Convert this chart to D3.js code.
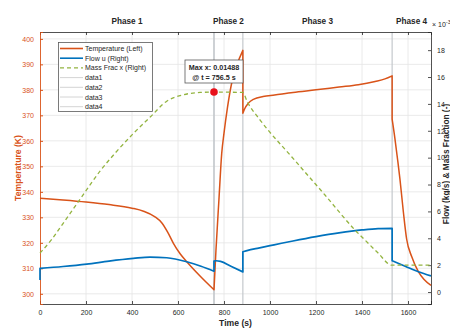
<!DOCTYPE html>
<html>
<head>
<meta charset="utf-8">
<script src="https://cdn.jsdelivr.net/npm/d3@7"></script>
<style>
  body { margin: 0; background: #fff; }
  svg { display: block; font-family: "Liberation Sans", Arial, sans-serif; }
</style>
</head>
<body>
<svg id="chart" width="450" height="329"></svg>
<script>
// ---- data -------------------------------------------------------------
const timeTicks = [0, 200, 400, 600, 800, 1000, 1200, 1400, 1600];
const tempTicks = [300, 310, 320, 330, 340, 350, 360, 370, 380, 390, 400];
const rightTicks = [0, 2, 4, 6, 8, 10, 12, 14, 16, 18];

const phaseNames = ["Phase 1", "Phase 2", "Phase 3", "Phase 4"];
const phaseBounds = [0, 756.5, 882, 1531, 1700];

// temperature [t (s), T (K)] per phase
const tempPhase1 = [[0,337.5],[100,336.8],[200,336.0],[300,335.0],[400,333.6],[450,332.4],[500,330.2],[530,327.8],[555,324.2],[580,319.8],[610,315.6],[640,312.4],[700,306.6],[756.5,301.6]];
const tempPhase2 = [[756.5,301.6],[765,317],[778,337],[790,355],[800,363],[815,373],[833,382.5],[855,389.5],[882,395.5]];
const tempPhase3 = [[882,370.8],[890,372.6],[906,374.8],[930,376.4],[970,377.4],[1020,378.0],[1100,379.0],[1200,380.0],[1300,381.1],[1384,382.0],[1457,383.3],[1500,384.3],[1531,385.5]];
const tempPhase4 = [[1531,368.5],[1543,361],[1555,352.5],[1565,345],[1580,332],[1594,321.5],[1616,314.6],[1645,308.7],[1670,305.6],[1700,303.3]];

// flow u [t (s), value x1e-3] per phase
const flowStart  = [[0,0.9]];
const flowPhase1 = [[0,1.76],[100,1.9],[203,2.08],[300,2.3],[406,2.5],[478,2.6],[551,2.55],[638,2.25],[700,1.92],[756.5,1.55]];
const flowPhase2 = [[756.5,2.3],[765,2.33],[785,2.28],[830,1.92],[882,1.5]];
const flowPhase3 = [[882,3.0],[900,3.08],[950,3.27],[1000,3.45],[1050,3.63],[1100,3.8],[1200,4.12],[1300,4.4],[1400,4.62],[1470,4.72],[1531,4.74]];
const flowPhase4 = [[1531,2.33],[1590,1.9],[1645,1.51],[1700,1.2]];

// mass fraction x [t (s), value x1e-3]
const massFrac = [[0,2.9],[50,3.9],[100,5.1],[174,6.9],[261,9.0],[330,10.4],[406,11.8],[478,13.0],[551,14.2],[623,14.68],[696,14.85],[756.5,14.88],[820,14.87],[882,14.85],[900,14.2],[957,12.8],[1094,10.07],[1239,7.22],[1370,4.61],[1413,3.87],[1470,2.9],[1529,2.0],[1600,2.0],[1700,2.0]];

// peak of the mass fraction
const maxX = 0.01488;
const maxT = 756.5;

const legendLabels = ["Temperature (Left)", "Flow u (Right)", "Mass Frac x (Right)", "data1", "data2", "data3", "data4"];

// ---- layout -----------------------------------------------------------
const ORANGE = "#D95319", BLUE = "#0072BD", GREEN = "#93B440", INK = "#262626";
const svg = d3.select("#chart");
const mLeft = 40, mRight = 431, mTop = 32, mBottom = 304;

const x  = d3.scaleLinear().domain([0, 1700]).range([mLeft, mRight]);
const yL = d3.scaleLinear().domain([296, 402.7]).range([mBottom, mTop]);
const yR = d3.scaleLinear().domain([-0.89, 19.35]).range([mBottom, mTop]);

// grid
const grid = svg.append("g").attr("stroke", "#e4e4e4").attr("stroke-width", 0.8);
timeTicks.slice(1).forEach(t => grid.append("line")
  .attr("x1", x(t)).attr("x2", x(t)).attr("y1", mTop).attr("y2", mBottom));
tempTicks.forEach(v => grid.append("line")
  .attr("x1", mLeft).attr("x2", mRight).attr("y1", yL(v)).attr("y2", yL(v)));

// phase dividers (data1..data4)
const dividers = [phaseBounds[1], phaseBounds[2], phaseBounds[3], maxT];
svg.append("g").selectAll("line").data(dividers).join("line")
  .attr("x1", d => x(d)).attr("x2", d => x(d))
  .attr("y1", mTop).attr("y2", mBottom)
  .attr("stroke", "#c4c8cc").attr("stroke-width", 1.2);

// phase titles
svg.append("g").selectAll("text").data(phaseNames).join("text")
  .attr("x", (d, i) => x((phaseBounds[i] + phaseBounds[i + 1]) / 2))
  .attr("y", 24).attr("text-anchor", "middle")
  .attr("font-size", 8.2).attr("font-weight", "bold").attr("fill", INK)
  .text(d => d);

// axes
const bottomAxis = svg.append("g").attr("transform", `translate(0,${mBottom})`)
  .call(d3.axisBottom(x).tickValues(timeTicks).tickSize(-3).tickPadding(6).tickFormat(d3.format("d")));
const topAxis = svg.append("g").attr("transform", `translate(0,${mTop})`)
  .call(d3.axisTop(x).tickValues(timeTicks).tickSize(-3).tickFormat(""));
const leftAxis = svg.append("g").attr("transform", `translate(${mLeft},0)`)
  .call(d3.axisLeft(yL).tickValues(tempTicks).tickSize(-3).tickPadding(6));
const rightAxis = svg.append("g").attr("transform", `translate(${mRight},0)`)
  .call(d3.axisRight(yR).tickValues(rightTicks).tickSize(-3).tickPadding(6));

[bottomAxis, topAxis, rightAxis].forEach(g => {
  g.select(".domain").attr("stroke", INK).attr("stroke-width", 0.8);
  g.selectAll(".tick line").attr("stroke", INK).attr("stroke-width", 0.8);
  g.selectAll(".tick text").attr("fill", INK).attr("font-size", 7)
    .attr("font-family", "'Liberation Sans', Arial, sans-serif");
});
leftAxis.select(".domain").attr("stroke", ORANGE).attr("stroke-width", 0.9);
leftAxis.selectAll(".tick line").attr("stroke", ORANGE);
leftAxis.selectAll(".tick text").attr("fill", ORANGE).attr("font-size", 7)
  .attr("font-family", "'Liberation Sans', Arial, sans-serif");

// axis titles
svg.append("text").attr("x", (mLeft + mRight) / 2).attr("y", 326)
  .attr("text-anchor", "middle").attr("font-size", 8.6).attr("font-weight", "bold")
  .attr("fill", INK).text("Time (s)");
svg.append("text").attr("transform", `translate(20.5,168) rotate(-90)`)
  .attr("text-anchor", "middle").attr("font-size", 8.6).attr("font-weight", "bold")
  .attr("fill", ORANGE).text("Temperature (K)");
svg.append("text").attr("transform", `translate(448.5,164) rotate(-90)`)
  .attr("text-anchor", "middle").attr("font-size", 8.3).attr("font-weight", "bold")
  .attr("fill", INK).text("Flow (kg/s) & Mass Fraction (-)");
const expo = svg.append("text").attr("x", 432).attr("y", 27)
  .attr("font-size", 7).attr("fill", INK);
expo.append("tspan").text("\u00d7 10");
expo.append("tspan").attr("dy", -3).attr("font-size", 5.5).text("-3");

// ---- series -----------------------------------------------------------
function joined(gen, segs, sx, sy) {
  return segs.map((s, i) => {
    if (s.length === 1) return (i ? "L" : "M") + sx(s[0][0]) + "," + sy(s[0][1]);
    const p = gen(s);
    return i ? "L" + p.slice(1) : p;
  }).join("");
}
const plot = svg.append("g");

const lineL = d3.line().x(d => x(d[0])).y(d => yL(d[1])).curve(d3.curveMonotoneX);
const lineR = d3.line().x(d => x(d[0])).y(d => yR(d[1])).curve(d3.curveMonotoneX);

plot.append("path")
  .attr("d", joined(lineL, [tempPhase1, tempPhase2, tempPhase3, tempPhase4], x, yL))
  .attr("fill", "none").attr("stroke", ORANGE).attr("stroke-width", 1.5)
  .attr("stroke-linejoin", "round");

plot.append("path")
  .attr("d", joined(lineR, [flowStart, flowPhase1, flowPhase2, flowPhase3, flowPhase4], x, yR))
  .attr("fill", "none").attr("stroke", BLUE).attr("stroke-width", 1.7)
  .attr("stroke-linejoin", "round");

plot.append("path")
  .attr("d", lineR(massFrac))
  .attr("fill", "none").attr("stroke", GREEN).attr("stroke-width", 1.3)
  .attr("stroke-dasharray", "4,3");

// peak marker and its note
plot.append("circle").attr("cx", x(maxT)).attr("cy", yR(maxX * 1000))
  .attr("r", 3.8).attr("fill", "#E8101A");

const note = svg.append("g");
note.append("rect").attr("x", 185).attr("y", 60).attr("width", 58).attr("height", 23)
  .attr("fill", "#fff").attr("stroke", "#5a5a5a").attr("stroke-width", 0.8);
note.append("text").attr("x", 214).attr("y", 70).attr("text-anchor", "middle")
  .attr("font-size", 7.2).attr("font-weight", "bold").attr("fill", INK)
  .text(`Max x: ${maxX.toFixed(5)}`);
note.append("text").attr("x", 214).attr("y", 80).attr("text-anchor", "middle")
  .attr("font-size", 7.2).attr("font-weight", "bold").attr("fill", INK)
  .text(`@ t = ${maxT} s`);

// ---- legend -----------------------------------------------------------
const legend = svg.append("g");
legend.append("rect").attr("x", 58.5).attr("y", 42.5).attr("width", 94).attr("height", 69)
  .attr("fill", "#fff").attr("stroke", "#5a5a5a").attr("stroke-width", 0.8);
const legendStyle = [
  { c: ORANGE, w: 1.6, dash: null },
  { c: BLUE, w: 1.6, dash: null },
  { c: GREEN, w: 1.3, dash: "4,3" },
  { c: "#cfcfcf", w: 0.9, dash: null },
  { c: "#cfcfcf", w: 0.9, dash: null },
  { c: "#cfcfcf", w: 0.9, dash: null },
  { c: "#cfcfcf", w: 0.9, dash: null }
];
legendLabels.forEach((lab, i) => {
  const yy = 48.5 + i * 9.7;
  legend.append("line").attr("x1", 60).attr("x2", 83).attr("y1", yy).attr("y2", yy)
    .attr("stroke", legendStyle[i].c).attr("stroke-width", legendStyle[i].w)
    .attr("stroke-dasharray", legendStyle[i].dash);
  legend.append("text").attr("x", 85).attr("y", yy + 2.5)
    .attr("font-size", 7).attr("fill", INK).text(lab);
});
</script>
</body>
</html>
